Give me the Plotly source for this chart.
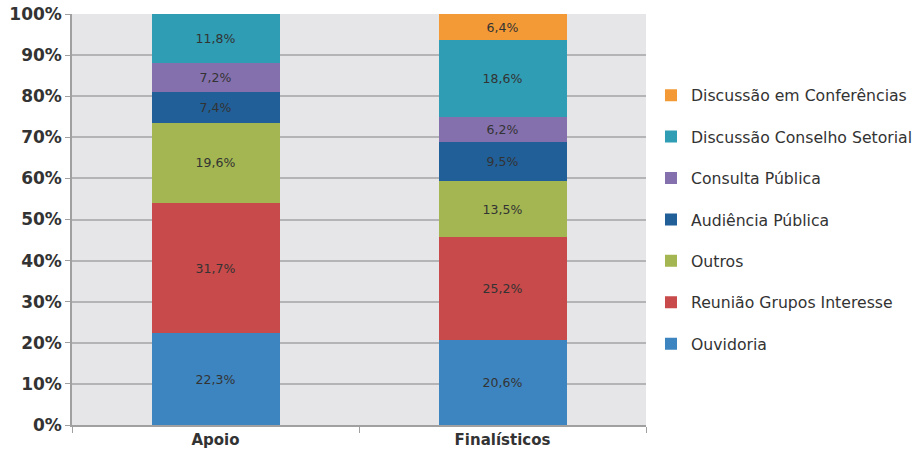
import plotly.graph_objects as go

categories = ["Apoio", "Finalísticos"]
series_names = [
    "Ouvidoria",
    "Reunião Grupos Interesse",
    "Outros",
    "Audiência Pública",
    "Consulta Pública",
    "Discussão Conselho Setorial",
    "Discussão em Conferências",
]
ouvidoria = [22.3, 20.6]
reuniao = [31.7, 25.2]
outros = [19.6, 13.5]
audiencia = [7.4, 9.5]
consulta = [7.2, 6.2]
conselho = [11.8, 18.6]
conferencias = [0.0, 6.4]
y_ticks = [0, 10, 20, 30, 40, 50, 60, 70, 80, 90, 100]

values = [ouvidoria, reuniao, outros, audiencia, consulta, conselho, conferencias]
colors = ["#3d85c0", "#c94a4a", "#a3b651", "#215f99", "#8570ae", "#2f9db3", "#f39a36"]

fig = go.Figure()
for i, (name, vals, col) in enumerate(zip(series_names, values, colors)):
    txt = [("%.1f%%" % v).replace(".", ",") if v > 0 else "" for v in vals]
    fig.add_trace(go.Bar(
        x=categories, y=vals, name=name, marker=dict(color=col, line=dict(width=0)),
        text=txt, textposition="inside", insidetextanchor="middle",
        textfont=dict(family="DejaVu Sans", size=12.5, color="#333333"),
        legendgroup=f"g{i}", legendrank=100 - i, width=0.446,
    ))

fig.update_layout(
    barmode="stack",
    width=921, height=458,
    margin=dict(l=72, r=275, t=14, b=33, autoexpand=False),
    paper_bgcolor="white",
    plot_bgcolor="#e6e6e8",
    showlegend=True,
    legend=dict(
        traceorder="grouped", tracegroupgap=18,
        x=1.0087, xanchor="left", y=0.5, yanchor="middle",
        font=dict(family="DejaVu Sans", size=15.7, color="#333333"),
        itemwidth=30,
    ),
    uniformtext=dict(minsize=8, mode="show"),
)
fig.update_yaxes(
    range=[0, 100], tickvals=y_ticks, ticktext=[f"{t}%" for t in y_ticks],
    showgrid=True, gridcolor="#b4b4b6", gridwidth=1.5,
    ticks="outside", ticklen=5, tickcolor="#a0a0a0",
    showline=True, linecolor="#a0a0a0", linewidth=1.5,
    tickfont=dict(family="DejaVu Sans", size=17, color="#333333", weight="bold"),
    zeroline=False, automargin=False,
)
fig.update_xaxes(
    showline=True, linecolor="#a0a0a0", linewidth=1.5,
    ticks="outside", tickson="boundaries", ticklen=6, tickcolor="#a0a0a0",
    tickfont=dict(family="DejaVu Sans", size=15, color="#333333", weight="bold"),
    automargin=False,
)
fig.write_html("out.html")
